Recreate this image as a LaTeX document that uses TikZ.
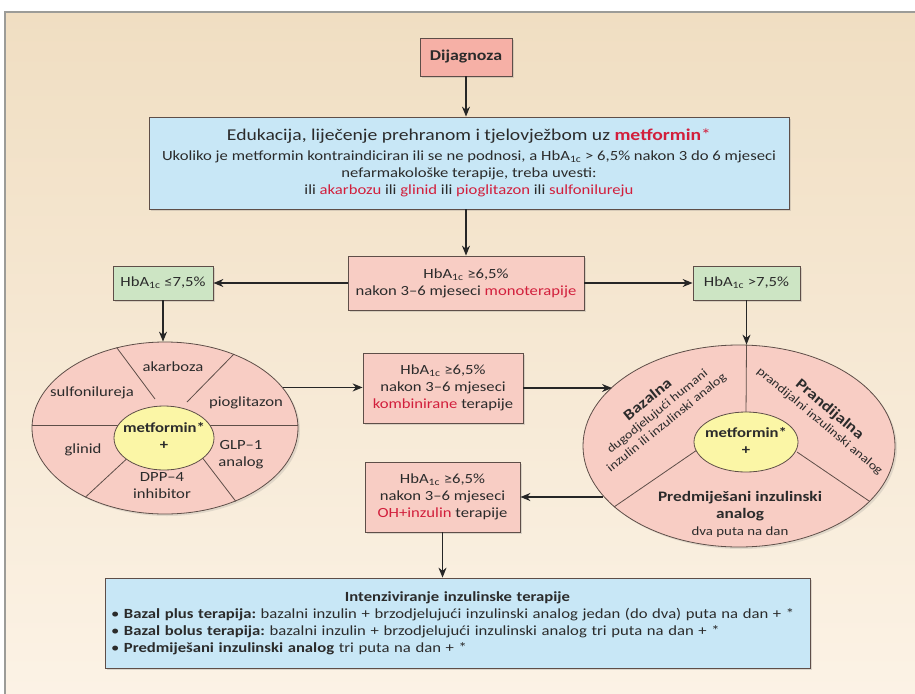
\documentclass[tikz,border=0pt]{standalone}
\usepackage{fontspec}
\setmainfont{Carlito}[FakeStretch=1.19]
\usetikzlibrary{shapes.geometric,arrows.meta,shadows}
\definecolor{panelbg}{HTML}{F0DEC2}
\definecolor{panelbot}{HTML}{FCF3E6}
\definecolor{panelline}{HTML}{9C9C98}
\definecolor{boxline}{HTML}{5E4E48}
\definecolor{diagfill}{HTML}{F6B0A6}
\definecolor{pinkfill}{HTML}{F8CDC4}
\definecolor{greenfill}{HTML}{CDE5C4}
\definecolor{bluefill}{HTML}{C8E7F6}
\definecolor{yellowfill}{HTML}{FBF6A6}
\definecolor{redtext}{HTML}{D21F3C}
\definecolor{maintext}{HTML}{2B2B2B}
\newcommand{\hba}{HbA\textsubscript{1c}}
\newcommand{\redtxt}[1]{\textcolor{redtext}{#1}}
\frenchspacing
\tikzstyle{base} = [rectangle, draw=boxline, line width=0.8pt, text=maintext, align=center, inner sep=2pt, drop shadow={opacity=0.25,shadow xshift=2pt,shadow yshift=-2pt}]
\tikzstyle{diagbox} = [base, fill=diagfill, minimum width=92pt, minimum height=38pt, font=\bfseries\fontsize{15}{18}\selectfont]
\tikzstyle{hbabox} = [base, fill=pinkfill, font=\fontsize{14}{17}\selectfont]
\tikzstyle{greenbox} = [base, fill=greenfill, minimum height=34pt, font=\fontsize{14}{17}\selectfont]
\tikzstyle{bluebox} = [base, fill=bluefill, font=\fontsize{14}{17}\selectfont]
\tikzstyle{bigell} = [ellipse, draw=boxline, line width=0.8pt, fill=pinkfill, inner sep=0pt, drop shadow={opacity=0.2,shadow xshift=2pt,shadow yshift=-2pt}]
\tikzstyle{yelell} = [ellipse, draw=boxline, line width=0.8pt, fill=yellowfill, inner sep=0pt]
\tikzstyle{divider} = [draw=boxline, line width=0.8pt]
\tikzstyle{elltext} = [text=maintext, align=center, inner sep=0pt, font=\fontsize{14}{17}\selectfont]
\tikzstyle{arrow} = [draw=black!85, line width=1.2pt, -{Stealth[length=10pt,width=8pt]}]

\begin{document}
\begin{tikzpicture}[x=1pt,y=-1pt]
\useasboundingbox (0,0) rectangle (915,693);
\fill[white] (0,0) rectangle (915,693);
\draw[panelline, line width=1.5pt, top color=panelbg, bottom color=panelbot] (5,12) rectangle (930,710);

% boxes
\node(diag)[diagbox] at (466,57){Dijagnoza};
\node(edu)[bluebox, minimum width=640pt, minimum height=92pt] at (469,163){{\fontsize{16.5}{20}\selectfont Edukacija, liječenje prehranom i tjelovježbom uz \textbf{\redtxt{metformin}}\redtxt{*}}\\[3pt]
Ukoliko je metformin kontraindiciran ili se ne podnosi, a \hba{} > 6,5\% nakon 3 do 6 mjeseci\\
nefarmakološke terapije, treba uvesti:\\
ili \redtxt{akarbozu} ili \redtxt{glinid} ili \redtxt{pioglitazon} ili \redtxt{sulfonilureju}};
\node(mono)[hbabox, minimum width=236pt, minimum height=54pt] at (466,283){\hba{} ≥6,5\%\\ nakon 3–6 mjeseci \redtxt{monoterapije}};
\node(lowgreen)[greenbox, minimum width=100pt] at (163,283){\hba{} ≤7,5\%};
\node(highgreen)[greenbox, minimum width=107pt] at (746.5,283){\hba{} >7,5\%};
\node(kombi)[hbabox, minimum width=160pt, minimum height=70pt] at (443,388){\hba{} ≥6,5\%\\ nakon 3–6 mjeseci\\ \redtxt{kombinirane} terapije};
\node(ohins)[hbabox, minimum width=155pt, minimum height=70pt] at (442.5,497){\hba{} ≥6,5\%\\ nakon 3–6 mjeseci\\ \redtxt{OH+inzulin} terapije};
\node(intenz)[bluebox, minimum width=705pt, minimum height=90pt, text width=693pt, inner xsep=6pt, align=left] at (457.5,623){\makebox[\hsize]{\textbf{Intenziviranje inzulinske terapije}}\\
• \textbf{Bazal plus terapija:} bazalni inzulin + brzodjelujući inzulinski analog jedan (do dva) puta na dan + *\\
• \textbf{Bazal bolus terapija:} bazalni inzulin + brzodjelujući inzulinski analog tri puta na dan + *\\
• \textbf{Predmiješani inzulinski analog} tri puta na dan + *};

% left ellipse
\node(leftell)[bigell, minimum width=266pt, minimum height=172pt] at (165,428){};
\draw[divider] ([yshift=3pt]leftell.west) -- ([yshift=3pt]leftell.east);
\draw[divider] (leftell.121.5) -- (155,399);
\draw[divider] (leftell.47) -- (187,402);
\draw[divider] (leftell.221.5) -- (133,453);
\draw[divider] (leftell.314) -- (198,452);
\node(leftyel)[yelell, minimum width=100pt, minimum height=64pt] at (164,438){};
\node(metl)[elltext, font=\bfseries\fontsize{14}{17}\selectfont] at (164,436){metformin*\\+};
\node(akarb)[elltext] at (173,367){akarboza};
\node(sulfo)[elltext] at (92,393){sulfonilureja};
\node(piogl)[elltext] at (246,403){pioglitazon};
\node(glinid)[elltext] at (83,450){glinid};
\node(dpp)[elltext] at (162,486){DPP–4\\inhibitor};
\node(glp)[elltext] at (241,455){GLP–1\\analog};

% right ellipse
\node(rightell)[bigell, minimum width=312pt, minimum height=202pt] at (739,446){};
\draw[divider] (rightell.north -| highgreen.south) -- (746,415);
\draw[divider] (rightell.206.6) -- (697,450);
\draw[divider] (rightell.337) -- (797,452);
\node(rightyel)[yelell, minimum width=104pt, minimum height=60pt] at (746,442){};
\node(metr)[elltext, font=\bfseries\fontsize{14}{17}\selectfont] at (746,441){metformin*\\+};
\node(bazal)[elltext, rotate=39, font=\fontsize{12}{14.5}\selectfont] at (657,411){{\bfseries\fontsize{15}{17}\selectfont Bazalna}\\ dugodjelujući humani\\ inzulin ili inzulinski analog};
\node(prand)[elltext, rotate=-40, font=\fontsize{12}{14.5}\selectfont] at (825,415){{\bfseries\fontsize{15}{17}\selectfont Prandijalna}\\ prandijalni inzulinski analog};
\node(predm)[elltext, font=\fontsize{14.5}{17}\selectfont] at (740,514){\textbf{Predmiješani inzulinski}\\ \textbf{analog}\\ {\fontsize{12.5}{15}\selectfont dva puta na dan}};

% arrows
\draw[arrow](diag.south)--(diag.south |- edu.north);
\draw[arrow](mono.north |- edu.south)--(mono.north);
\draw[arrow](mono.west)--(lowgreen.east);
\draw[arrow](mono.east)--(highgreen.west);
\draw[arrow](lowgreen.south)--(lowgreen.south |- leftell.north);
\draw[arrow](highgreen.south)--(highgreen.south |- rightell.north);
\draw[arrow](leftell.19)--(leftell.19 -| kombi.west);
\draw[arrow](kombi.east)--(kombi.east -| rightell.155.6);
\draw[arrow](ohins.east -| rightell.200.75)--(ohins.east);
\draw[arrow](ohins.south)--(ohins.south |- intenz.north);
\end{tikzpicture}
\end{document}
